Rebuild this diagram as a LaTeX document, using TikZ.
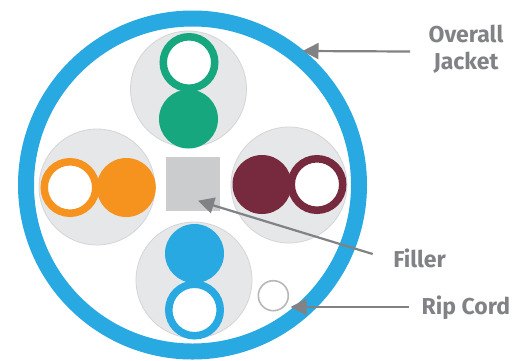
\documentclass[tikz,border=0pt]{standalone}
\usepackage{fontspec}
\setmainfont{Fira Sans}
\usetikzlibrary{arrows.meta}
\definecolor{jacketblue}{HTML}{29A9E1}
\definecolor{pairgreen}{HTML}{17A77E}
\definecolor{pairorange}{HTML}{F6921E}
\definecolor{pairmaroon}{HTML}{772A3E}
\definecolor{pairbg}{HTML}{E6E7E8}
\definecolor{pairedge}{HTML}{D4D5D7}
\definecolor{fillergray}{HTML}{CBCCCE}
\definecolor{cordgray}{HTML}{B8B8BA}
\definecolor{labelgray}{HTML}{808285}
\tikzset{
  x=1pt,y=-1pt,
  round/.style={circle,inner sep=0pt,outer sep=0pt},
  jacket/.style={round,minimum size=333pt,draw=jacketblue,line width=16pt,fill=white},
  pairdisc/.style={round,minimum size=116pt,fill=pairbg,draw=pairedge,line width=.8pt},
  solidcore/.style={round,minimum size=59pt,fill=#1},
  hollowcore/.style={round,minimum size=51.5pt,draw=#1,line width=7.5pt,fill=white},
  fillerbox/.style={rectangle,inner sep=0pt,minimum size=54pt,fill=fillergray},
  ripcord/.style={round,minimum size=30pt,draw=cordgray,line width=1.6pt,fill=white},
  pointer/.style={draw=labelgray,line width=2.2pt,-{Triangle[length=16pt,width=16pt,fill=labelgray]},shorten >=0pt},
  caption/.style={text=labelgray,font=\fontsize{23}{30}\selectfont\bfseries,inner sep=0pt,align=center}
}
\begin{document}
\begin{tikzpicture}
\useasboundingbox (0,0) rectangle (513,360);
\fill[white] (0,0) rectangle (513,360);
\node[jacket] (jacket) at (192.5,185) {};
% green pair
\node[pairdisc] (gbg) at (188.5,89) {};
\node[hollowcore=pairgreen] (gring) at (189,62.5) {};
\node[solidcore=pairgreen] (gcore) at (188.5,119) {};
% orange pair
\node[pairdisc] (obg) at (97,187) {};
\node[hollowcore=pairorange] (oring) at (70,187.5) {};
\node[solidcore=pairorange] (ocore) at (126.3,187.5) {};
% maroon pair
\node[pairdisc] (mbg) at (289,185) {};
\node[hollowcore=pairmaroon] (mring) at (317,184.5) {};
\node[solidcore=pairmaroon] (mcore) at (262,184.5) {};
% blue pair
\node[pairdisc] (bbg) at (194,280) {};
\node[hollowcore=jacketblue] (bring) at (194.5,310) {};
\node[solidcore=jacketblue] (bcore) at (194.5,253.5) {};
% filler and rip cord
\node[fillerbox] (filler) at (193,184) {};
\node[ripcord] (cord) at (273.3,295.7) {};
% labels
\node[caption] (overall) at (466,33.5) {Overall};
\node[caption] (jackettext) at (466,63) {Jacket};
\node[caption] (fillertext) at (419.5,258) {Filler};
\node[caption,anchor=west] (riptext) at (421.5,307.5) {Rip Cord};
% pointers
\coordinate (jstart) at (410,51.5);
\coordinate (jtip) at (302.5,51);
\coordinate (fstart) at (372.7,254);
\coordinate (ftip) at (198,200.7);
\coordinate (rstart) at (409,307);
\coordinate (rtip) at (290.5,307);
\draw[pointer] (jstart) -- (jtip);
\draw[pointer] (fstart) -- (ftip);
\draw[pointer] (rstart) -- (rtip);
\end{tikzpicture}
\end{document}
